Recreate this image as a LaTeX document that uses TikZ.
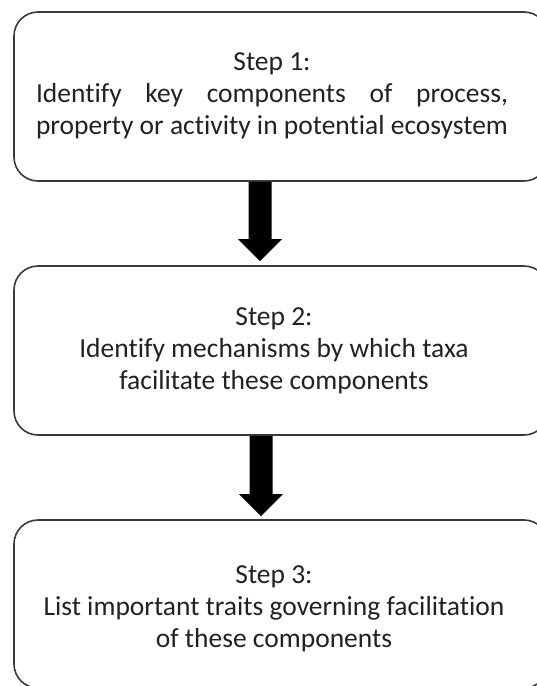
\documentclass[tikz,border=0pt]{standalone}
\usepackage{fontspec}
\setmainfont{Carlito}[Ligatures=NoCommon]
\newlength\lineL
\settowidth\lineL{\fontsize{27.5pt}{32pt}\selectfont property or activity in potential ecosystem}
\definecolor{boxline}{HTML}{3A3A3A}
\definecolor{txt}{HTML}{222222}
\tikzset{
  stepbox/.style={draw=boxline, line width=1.6pt, rounded corners=24pt, fill=white,
    minimum width=534pt, inner sep=0pt},
  steptext/.style={align=center, text=txt, inner sep=0pt,
    font=\fontsize{27.5pt}{32pt}\selectfont},
  blockarrow/.style={fill=black, draw=none}
}
\begin{document}
\begin{tikzpicture}[x=1pt, y=-1pt]
\useasboundingbox (0,0) rectangle (537,686);
\fill[white] (0,0) rectangle (537,686);
% boxes
\node[stepbox, minimum height=169pt] (s1) at (281,96.5) {};
\node[stepbox, minimum height=169pt] (s2) at (281,350.5) {};
\node[stepbox, minimum height=168pt] (s3) at (281,604) {};
% texts
\node[steptext] (t1) at (272,96) {Step 1:\\\makebox[\lineL][s]{Identify key components of process,}\\property or activity in potential ecosystem};
\node[steptext] (t2) at (274,351) {Step 2:\\Identify mechanisms by which taxa\\facilitate these components};
\node[steptext] (t3) at (274,609) {Step 3:\\List important traits governing facilitation\\of these components};
% arrows
\coordinate (a1) at (s1.south -| 260,0);
\coordinate (b1) at (s2.north -| 260,0);
\fill[blockarrow] ([xshift=-11.5pt]a1) -- ([xshift=11.5pt]a1) -- ([xshift=11.5pt,yshift=26pt]b1) -- ([xshift=22pt,yshift=26pt]b1) -- ([yshift=4pt]b1) -- ([xshift=-22pt,yshift=26pt]b1) -- ([xshift=-11.5pt,yshift=26pt]b1) -- cycle;
\coordinate (a2) at (s2.south -| 261,0);
\coordinate (b2) at (s3.north -| 261,0);
\fill[blockarrow] ([xshift=-11.5pt]a2) -- ([xshift=11.5pt]a2) -- ([xshift=11.5pt,yshift=25pt]b2) -- ([xshift=22pt,yshift=25pt]b2) -- ([yshift=3pt]b2) -- ([xshift=-22pt,yshift=25pt]b2) -- ([xshift=-11.5pt,yshift=25pt]b2) -- cycle;
\end{tikzpicture}
\end{document}
